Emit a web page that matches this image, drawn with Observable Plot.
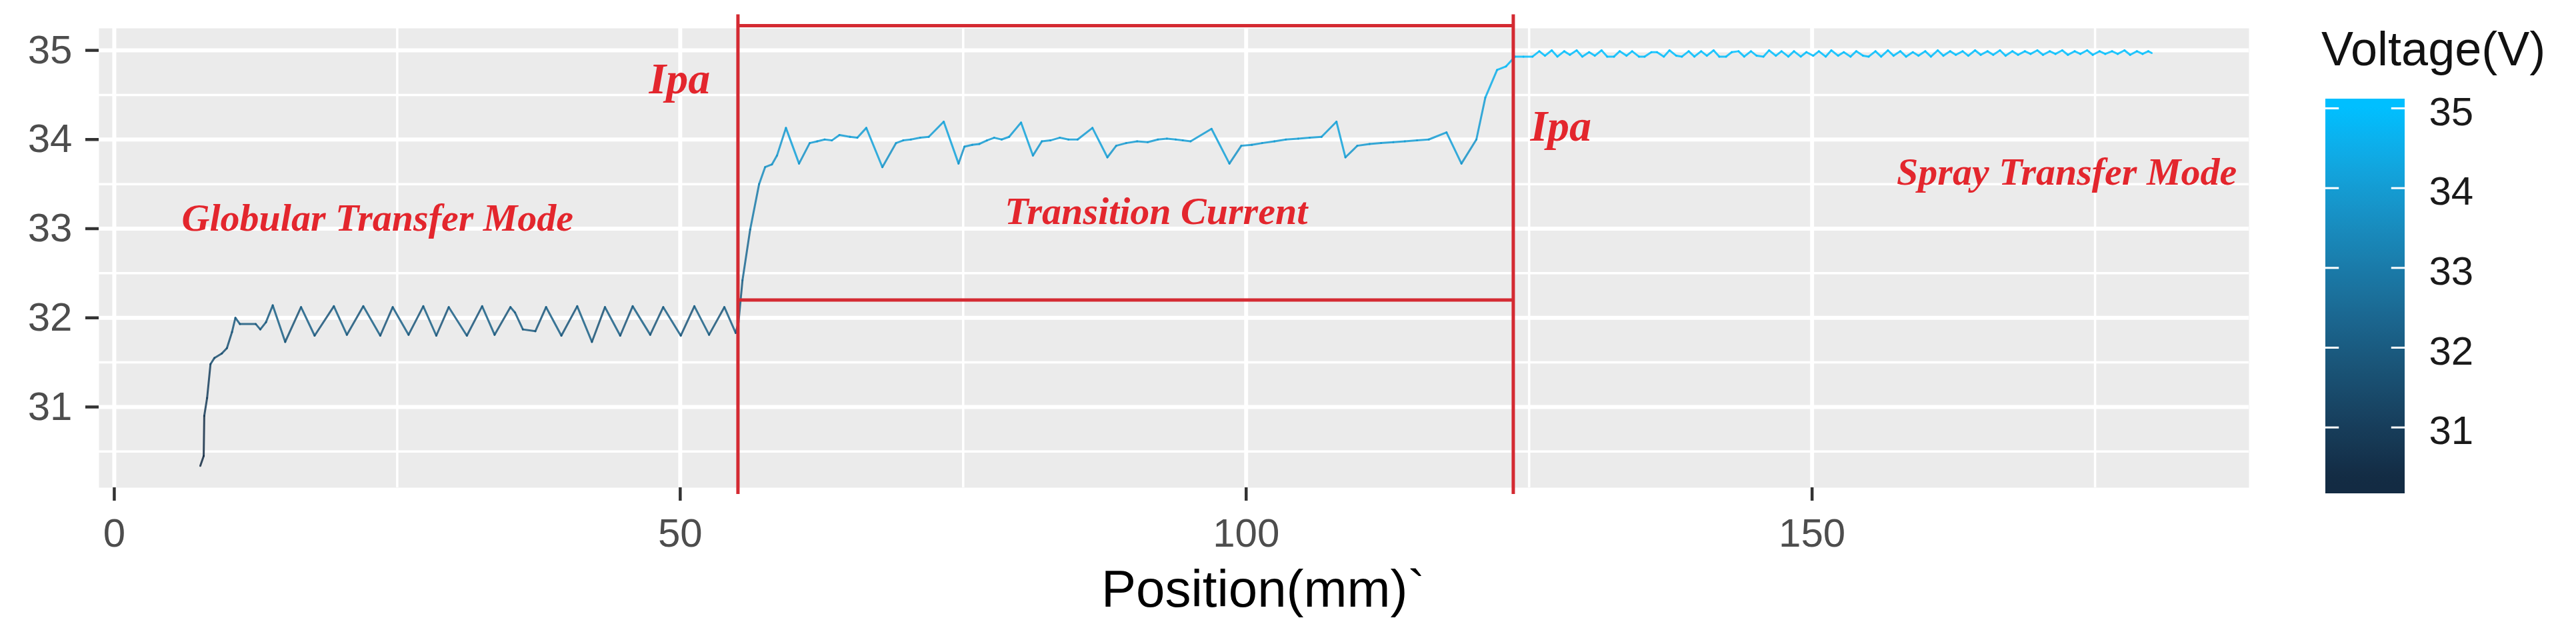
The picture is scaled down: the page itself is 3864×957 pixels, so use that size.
<!DOCTYPE html>
<html><head><meta charset="utf-8">
<script src="https://cdn.jsdelivr.net/npm/d3@7"></script>
<script src="https://cdn.jsdelivr.net/npm/@observablehq/plot@0.6"></script>
<style>
html,body{margin:0;padding:0;background:#fff;}
#wrap{position:relative;width:3864px;height:957px;overflow:hidden;background:#fff;}
#main{position:absolute;left:0;top:0;}
#legend{position:absolute;left:3440px;top:0;}
#ltitle{position:absolute;left:3482px;top:37px;font-family:"Liberation Sans",Arial,sans-serif;font-size:72px;line-height:72px;color:#111;white-space:nowrap;}
</style></head><body>
<div id="wrap"><div id="main"></div><div id="legend"></div><div id="ltitle">Voltage(V)</div></div>
<script>
// ---- data: [position (mm), voltage (V)] ----
const globular = [[7.6,30.34],[7.9,30.45],[7.95,30.9],[8.2,31.1],[8.5,31.48],[8.85,31.55],[9.5,31.6],[9.95,31.66],[10.4,31.84],[10.7,32.0],[11.1,31.93],[12.5,31.93],[12.9,31.87],[13.4,31.95],[14.0,32.14],[15.1,31.73],[16.5,32.12],[17.7,31.8],[19.4,32.13],[20.55,31.81],[22.0,32.13],[23.5,31.8],[24.6,32.12],[26.0,31.81],[27.3,32.13],[28.45,31.8],[29.55,32.12],[31.15,31.8],[32.5,32.13],[33.6,31.81],[35.0,32.12],[35.4,32.06],[36.1,31.87],[37.2,31.85],[38.15,32.12],[39.5,31.8],[40.9,32.13],[42.2,31.73],[43.35,32.12],[44.7,31.8],[45.8,32.13],[47.35,31.81],[48.5,32.12],[50.05,31.8],[51.25,32.13],[52.55,31.81],[53.9,32.12],[54.9,31.83],[55.15,31.95]];
const transition = [[55.5,32.42],[56.18,32.99],[56.97,33.5],[57.5,33.69],[58.1,33.72],[58.55,33.82],[59.34,34.13],[60.5,33.73],[61.44,33.96],[62.1,33.98],[62.76,34.0],[63.4,33.99],[64.07,34.05],[65.0,34.03],[65.65,34.02],[66.44,34.13],[67.86,33.69],[69.07,33.96],[69.7,33.99],[70.38,34.0],[71.2,34.02],[71.96,34.03],[73.28,34.2],[74.59,33.73],[75.11,33.92],[75.8,33.94],[76.43,33.95],[77.1,33.99],[77.74,34.02],[78.4,34.0],[79.06,34.03],[80.11,34.19],[81.16,33.82],[81.95,33.98],[82.7,33.99],[83.53,34.02],[84.3,34.0],[85.11,34.0],[86.42,34.13],[87.74,33.8],[88.52,33.93],[89.4,33.96],[90.37,33.98],[91.3,33.97],[92.2,34.0],[93.0,34.01],[93.78,34.0],[94.4,33.99],[95.09,33.98],[96.94,34.12],[98.52,33.73],[99.57,33.93],[100.5,33.94],[101.41,33.96],[102.5,33.98],[103.51,34.0],[104.6,34.01],[105.61,34.02],[106.66,34.03],[107.98,34.2],[108.77,33.8],[109.82,33.93],[110.9,33.95],[111.92,33.96],[113.0,33.97],[114.02,33.98],[115.1,33.99],[116.13,34.0],[117.7,34.08],[119.02,33.73],[120.34,34.0],[121.13,34.47],[122.17,34.78],[122.96,34.82],[123.75,34.93]];
const spray = [[124.5,34.93],[125.3,34.93],[125.9,34.99],[126.4,34.94],[127.0,35.0],[127.5,34.93],[128.1,34.99],[128.6,34.95],[129.2,35.0],[129.7,34.93],[130.3,34.98],[130.8,34.94],[131.4,35.0],[131.9,34.93],[132.5,34.93],[133.0,34.99],[133.6,34.94],[134.1,34.99],[134.7,34.93],[135.2,34.93],[135.8,34.98],[136.3,34.98],[136.9,34.93],[137.4,35.0],[138.0,34.94],[138.5,34.93],[139.1,34.99],[139.6,34.93],[140.2,34.99],[140.7,34.94],[141.3,35.0],[141.8,34.93],[142.4,34.93],[142.9,34.98],[143.5,34.99],[144.0,34.93],[144.6,34.99],[145.1,34.94],[145.7,34.93],[146.2,35.0],[146.8,34.94],[147.3,34.99],[147.9,34.93],[148.4,34.99],[149.0,34.93],[149.5,34.98],[150.1,34.94],[150.6,34.99],[151.2,34.93],[151.7,35.0],[152.3,34.94],[152.8,34.98],[153.4,34.93],[153.9,34.99],[154.5,34.94],[155.0,34.93],[155.6,34.99],[156.1,34.93],[156.7,35.0],[157.2,34.94],[157.8,34.99],[158.3,34.93],[158.9,34.98],[159.4,34.94],[160.0,34.99],[160.5,34.93],[161.1,35.0],[161.6,34.94],[162.2,34.99],[162.7,34.95],[163.3,34.99],[163.8,34.94],[164.4,35.0],[164.9,34.95],[165.5,34.99],[166.0,34.95],[166.6,35.0],[167.1,34.94],[167.7,34.99],[168.2,34.95],[168.8,34.99],[169.3,34.96],[169.9,35.0],[170.4,34.95],[171.0,34.99],[171.5,34.96],[172.1,35.0],[172.6,34.95],[173.2,34.99],[173.7,34.96],[174.3,35.0],[174.8,34.95],[175.4,34.99],[175.9,34.96],[176.5,34.99],[177.0,34.96],[177.6,35.0],[178.1,34.95],[178.7,34.99],[179.2,34.96],[179.7,34.99],[180.0,34.97]];

const xTicks = [0, 50, 100, 150];
const xMinor = [25, 75, 125, 175];
const yTicks = [31, 32, 33, 34, 35];
const yMinor = [30.5, 31.5, 32.5, 33.5, 34.5];
const legendTicks = [31, 32, 33, 34, 35];

const ipaPositions = [55.1, 123.6];       // vertical red lines (mm)
const boxVoltages = [32.2, 35.277];        // horizontal red box edges (V)
const ipaLabels = ["Ipa", "Ipa"];
const ipaLabelX = [49.94, 127.8];
const ipaLabelY = [34.52, 33.99];
const modeLabels = ["Globular Transfer Mode", "Transition Current", "Spray Transfer Mode"];
const modeLabelX = [23.26, 92.05, 172.5];
const modeLabelY = [32.98, 33.05, 33.49];
const xTitle = "Position(mm)`";

const colorDomain = [30.34, 35.0];
const colorRange = ["#132B43", "#00BFFF"];
const RED = "#d42a32";
const TXT_RED = "#e3262d";

// ---- build segments (each coloured by its starting voltage, like geom_line) ----
const all = [...globular, ...transition, ...spray];
const segments = d3.pairs(all).map(([a, b]) => ({x1: a[0], y1: a[1], x2: b[0], y2: b[1], v: a[1]}));

const colorOpts = {type: "linear", domain: colorDomain, range: colorRange, interpolate: d3.interpolateLab, clamp: true};
const sans = '"Liberation Sans", Arial, sans-serif';

const mainPlot = Plot.plot({
  width: 3864, height: 957,
  marginLeft: 148, marginRight: 491, marginTop: 42, marginBottom: 226,
  style: {fontFamily: sans, fontSize: "60px", color: "#4D4D4D", background: "transparent", overflow: "visible"},
  x: {domain: [-1.35, 188.6]},
  y: {domain: [30.095, 35.247]},
  color: colorOpts,
  marks: [
    Plot.frame({fill: "#EBEBEB", stroke: "none"}),
    Plot.ruleY(yMinor, {stroke: "white", strokeWidth: 3.5}),
    Plot.ruleX(xMinor, {stroke: "white", strokeWidth: 3.5}),
    Plot.ruleY(yTicks, {stroke: "white", strokeWidth: 6}),
    Plot.ruleX(xTicks, {stroke: "white", strokeWidth: 6}),
    Plot.link(segments, {x1: "x1", y1: "y1", x2: "x2", y2: "y2", stroke: "v", strokeWidth: 3, strokeOpacity: 0.85, strokeLinecap: "round"}),
    Plot.ruleX(ipaPositions, {y1: 30.02, y2: 35.40, stroke: RED, strokeWidth: 5}),
    Plot.ruleY(boxVoltages, {x1: ipaPositions[0], x2: ipaPositions[1], stroke: RED, strokeWidth: 5}),
    Plot.text(ipaLabels, {x: ipaLabelX, y: ipaLabelY, text: d => d, textAnchor: "middle", lineAnchor: "bottom",
      fontFamily: '"Liberation Serif", "Times New Roman", serif', fontStyle: "italic", fontWeight: "bold", fontSize: 66, fill: TXT_RED}),
    Plot.text(modeLabels, {x: modeLabelX, y: modeLabelY, text: d => d, textAnchor: "middle", lineAnchor: "bottom",
      fontFamily: '"Liberation Serif", "Times New Roman", serif', fontStyle: "italic", fontWeight: "bold", fontSize: 58, fill: TXT_RED}),
    Plot.axisX(xTicks, {tickSize: 20, tickPadding: 26, tickFormat: "d", stroke: "#333333", strokeWidth: 4.5, fill: "#4D4D4D", fontSize: 60, label: null}),
    Plot.axisY(yTicks, {tickSize: 20, tickPadding: 20, tickFormat: "d", stroke: "#333333", strokeWidth: 4.5, fill: "#4D4D4D", fontSize: 60, label: null}),
    Plot.text([xTitle], {x: 101.5, y: 28.757, text: d => d, textAnchor: "middle", lineAnchor: "bottom", fontSize: 78, fill: "#000"})
  ]
});
document.getElementById("main").appendChild(mainPlot);

// ---- vertical colour bar legend ----
const legendLo = 30.17, legendHi = 35.117;
const legendPlot = Plot.plot({
  width: 424, height: 957,
  marginLeft: 48, marginRight: 257, marginTop: 148, marginBottom: 217,
  style: {fontFamily: sans, fontSize: "60px", color: "#1a1a1a", background: "transparent", overflow: "visible"},
  x: {domain: [0, 1], axis: null},
  y: {domain: [legendLo, legendHi], axis: null},
  marks: [
    Plot.rect([0], {x1: 0, x2: 1, y1: legendLo, y2: legendHi, fill: "url(#cbar)"}),
    Plot.ruleY(legendTicks, {x1: 0, x2: 0.17, stroke: "white", strokeWidth: 3}),
    Plot.ruleY(legendTicks, {x1: 0.83, x2: 1, stroke: "white", strokeWidth: 3}),
    Plot.text(legendTicks, {x: 1, y: d => d, text: d => String(d), dx: 36, dy: 6, textAnchor: "start", fontSize: 60, fill: "#1a1a1a"})
  ]
});
const cscale = Plot.scale({color: colorOpts});
const svgSel = d3.select(legendPlot);
const grad = svgSel.insert("defs", ":first-child").append("linearGradient")
  .attr("id", "cbar").attr("x1", 0).attr("y1", 1).attr("x2", 0).attr("y2", 0);
d3.range(0, 1.0001, 0.02).forEach(t => {
  const v = legendLo + t * (legendHi - legendLo);
  grad.append("stop").attr("offset", t).attr("stop-color", cscale.apply(v));
});
document.getElementById("legend").appendChild(legendPlot);
</script>
</body></html>
